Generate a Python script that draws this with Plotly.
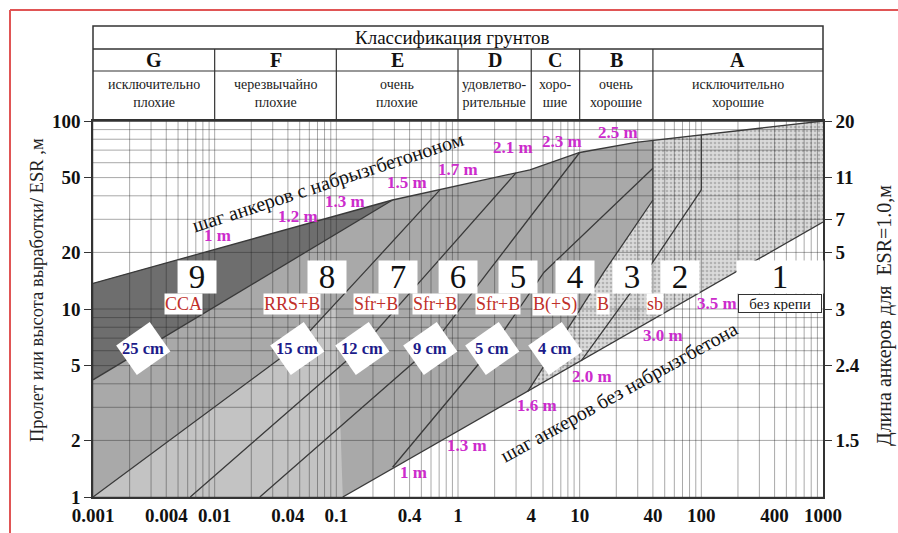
import numpy as np
import plotly.graph_objects as go

# ---------------- data ----------------
x_tick_vals = [0.001, 0.004, 0.01, 0.04, 0.1, 0.4, 1, 4, 10, 40, 100, 400, 1000]
x_tick_text = ["0.001", "0.004", "0.01", "0.04", "0.1", "0.4", "1", "4", "10", "40", "100", "400", "1000"]
y_tick_vals = [1, 2, 5, 10, 20, 50, 100]
y_tick_text = ["1", "2", "5", "10", "20", "50", "100"]
bolt_pos = [100, 50, 30, 20, 10, 5, 2]
bolt_text = ["20", "11", "7", "5", "3", "2.4", "1.5"]

class_letters = ["G", "F", "E", "D", "C", "B", "A"]
class_names = ["исключительно<br>плохие", "черезвычайно<br>плохие", "очень<br>плохие",
               "удовлетво-<br>рительные", "хоро-<br>шие", "очень<br>хорошие", "исключительно<br>хорошие"]
class_edges = [0.001, 0.01, 0.1, 1, 4, 10, 40, 1000]

# boundaries (Q, Span/ESR)
upper_q = [0.001, 0.29, 3.9, 10, 29, 1000]
upper_s = [13.7, 38, 55, 68, 77, 100]
lower_q = [0.113, 1000]
lower_s = [1, 29]
line_a_q = [0.001, 0.29]
line_a_s = [4.2, 38]
line_b_q = [0.001, 0.045, 0.17, 0.71]
line_b_s = [1, 6.2, 15.7, 43]
line_c_q = [0.0063, 0.16, 0.57, 3.0]
line_c_s = [1, 6.2, 15.7, 53]
line_d_q = [0.0235, 0.59, 1.76, 10]
line_d_s = [1, 6.2, 15.7, 68]
line_e_q = [0.29, 1.9, 5.1, 40]
line_e_s = [1.44, 6.2, 15.7, 56]
line_f_q = [3.75, 6.3, 15.8, 40]
line_f_s = [3.65, 6.2, 15.7, 38]
line_g_q = [10.3, 40, 100]
line_g_s = [5.3, 17.8, 43]
vert_q = [40, 100]

categories = ["9", "8", "7", "6", "5", "4", "3", "2", "1"]
codes = ["CCA", "RRS+B", "Sfr+B", "Sfr+B", "Sfr+B", "B(+S)", "B", "sb"]
thickness = ["25 cm", "15 cm", "12 cm", "9 cm", "5 cm", "4 cm"]
spacing_shot = ["1 m", "1.2 m", "1.3 m", "1.5 m", "1.7 m", "2.1 m", "2.3 m", "2.5 m"]
spacing_noshot = ["1 m", "1.3 m", "1.6 m", "2.0 m", "3.0 m", "3.5 m"]

# ---------------- layout helpers (pixel -> paper) ----------------
W, H = 898, 533
L0, R0, T0, B0 = 93, 823, 121, 497


def px(x):
    return (x - L0) / (R0 - L0)


def py(y):
    return (B0 - y) / (B0 - T0)


def qpaper(q):
    return (np.log10(q) + 3) / 6


def logi(q, qs, ss):
    return 10 ** np.interp(np.log10(q), np.log10(qs), np.log10(ss))


SERIF = "Liberation Serif, Times New Roman, serif"
fig = go.Figure()

# ---------------- fills ----------------
base_x = upper_q + lower_q[::-1] + [0.001]
base_y = upper_s + lower_s[::-1] + [1]
fig.add_trace(go.Scatter(x=base_x, y=base_y, fill="toself", mode="none",
                         fillcolor="#a9a9a9", hoverinfo="skip", showlegend=False))

bl_x = line_b_q[:2] + [0.1, lower_q[0], 0.001]
bl_y = line_b_s[:2] + [logi(0.1, line_b_q, line_b_s), 1, 1]
fig.add_trace(go.Scatter(x=bl_x, y=bl_y, fill="toself", mode="none",
                         fillcolor="#c3c3c3", hoverinfo="skip", showlegend=False))

u40 = logi(40, upper_q, upper_s)
r_x = line_f_q + [40] + [q for q in upper_q if q > 40] + [1000, line_f_q[0]]
r_y = line_f_s + [u40] + [s for q, s in zip(upper_q, upper_s) if q > 40] + [lower_s[1], line_f_s[0]]
fig.add_trace(go.Scatter(x=r_x, y=r_y, fill="toself", mode="none",
                         fillcolor="#d9d9d9",
                         fillpattern=dict(shape=".", size=4, solidity=0.35, fgcolor="#8a8a8a", bgcolor="#dadada"),
                         hoverinfo="skip", showlegend=False))

d9_x = upper_q[:2] + [line_a_q[0]]
d9_y = upper_s[:2] + [line_a_s[0]]
fig.add_trace(go.Scatter(x=d9_x, y=d9_y, fill="toself", mode="none",
                         fillcolor="#6e6e6e", hoverinfo="skip", showlegend=False))

# ---------------- grid ----------------
gx, gy = [], []
for e in range(-3, 3):
    for k in range(1, 10):
        q = k * 10.0 ** e
        gx += [q, q, None]
        gy += [1, 100, None]
hx, hy = [], []
for e in range(0, 2):
    for k in range(1, 10):
        s = k * 10.0 ** e
        hx += [0.001, 1000, None]
        hy += [s, s, None]
fig.add_trace(go.Scatter(x=gx, y=gy, mode="lines", line=dict(color="rgba(30,30,30,0.38)", width=1),
                         hoverinfo="skip", showlegend=False))
fig.add_trace(go.Scatter(x=hx, y=hy, mode="lines", line=dict(color="rgba(30,30,30,0.38)", width=1),
                         hoverinfo="skip", showlegend=False))

# ---------------- boundary lines ----------------
LC = "#3a3a3a"
for qs, ss in [(upper_q, upper_s), (lower_q, lower_s), (line_a_q, line_a_s), (line_b_q, line_b_s),
               (line_c_q, line_c_s), (line_d_q, line_d_s), (line_e_q, line_e_s), (line_f_q, line_f_s),
               (line_g_q, line_g_s)]:
    fig.add_trace(go.Scatter(x=qs, y=ss, mode="lines", line=dict(color=LC, width=1.3),
                             hoverinfo="skip", showlegend=False))
for q in vert_q:
    lo = logi(q, line_g_q, line_g_s)
    fig.add_trace(go.Scatter(x=[q, q], y=[lo, logi(q, upper_q, upper_s)], mode="lines",
                             line=dict(color=LC, width=1.3), hoverinfo="skip", showlegend=False))

fig.add_trace(go.Scatter(x=[1], y=[10], yaxis="y2", mode="markers", marker=dict(opacity=0),
                         hoverinfo="skip", showlegend=False))

ann = []
shapes = []


def A(text, x, y, **kw):
    d = dict(text=text, xref="paper", yref="paper", x=x, y=y, showarrow=False,
             xanchor="center", yanchor="middle")
    d.update(kw)
    ann.append(d)


# ---------------- header table ----------------
ty0, ty1, ty2 = py(26), py(49), py(71)
shapes.append(dict(type="rect", xref="paper", yref="paper", x0=0, x1=1, y0=1, y1=ty0,
                   line=dict(color="#333", width=1.5)))
shapes.append(dict(type="line", xref="paper", yref="paper", x0=0, x1=1, y0=ty1, y1=ty1,
                   line=dict(color="#333", width=1.5)))
shapes.append(dict(type="line", xref="paper", yref="paper", x0=0, x1=1, y0=ty2, y1=ty2,
                   line=dict(color="#333", width=1.2)))
for q in class_edges[1:-1]:
    xp = qpaper(q)
    shapes.append(dict(type="line", xref="paper", yref="paper", x0=xp, x1=xp, y0=1, y1=ty1,
                       line=dict(color="#333", width=1.2)))
A("Классификация грунтов", px(452), py(37), font=dict(family=SERIF, size=19, color="#111"))
for i, (lt, nm) in enumerate(zip(class_letters, class_names)):
    xc = (qpaper(class_edges[i]) + qpaper(class_edges[i + 1])) / 2
    A(lt, xc, py(60), font=dict(family=SERIF, size=20, color="#111", weight="bold"))
    A(nm, xc, py(94), font=dict(family=SERIF, size=14, color="#222"))

# ---------------- category boxes ----------------
cat_x = [197, 327, 398, 458, 518, 575, 632, 680, 780]
for c, xc in zip(categories, cat_x):
    w = 84 if c == "1" else 36
    A(c, px(xc), py(277), bgcolor="white", width=w, height=30,
      font=dict(family=SERIF, size=33, color="#111"))
code_x = [183, 292, 376, 435, 498, 555, 603, 655]
for c, xc in zip(codes, code_x):
    A(c, px(xc), py(304), bgcolor="white", borderpad=0,
      font=dict(family=SERIF, size=18, color="#c0302a"))
A("без крепи", px(780), py(303), bgcolor="white", bordercolor="#333", borderwidth=1, width=80, height=15,
  font=dict(family=SERIF, size=15, color="#111"))

# ---------------- thickness labels ----------------
th_x = [143, 297, 362, 430, 492, 555]
for t, xc in zip(thickness, th_x):
    A(" ", px(xc), py(348), bgcolor="white", width=38, height=33, textangle=-35)
    A(t, px(xc), py(348), font=dict(family=SERIF, size=16.5, color="#1c1c8a", weight="bold"))

# ---------------- spacing labels ----------------
MAG = "#cc2ccc"
sp1_pos = [(217, 235), (298, 216), (345, 201), (407, 182), (458, 169), (513, 147), (562, 141), (618, 132)]
for t, (xc, yc) in zip(spacing_shot, sp1_pos):
    A(t, px(xc), py(yc), font=dict(family=SERIF, size=17, color=MAG, weight="bold"))
sp2_pos = [(413, 472), (467, 445), (537, 405), (592, 376), (663, 335), (717, 303)]
for t, (xc, yc) in zip(spacing_noshot, sp2_pos):
    A(t, px(xc), py(yc), font=dict(family=SERIF, size=17, color=MAG, weight="bold"))

A("шаг анкеров с набрызгбетононом", px(328), py(182), textangle=-18,
  font=dict(family=SERIF, size=20, color="#111"))
A("шаг анкеров без набрызгбетона", px(619), py(392), textangle=-29,
  font=dict(family=SERIF, size=20, color="#111"))

A("Пролет или высота выработки/ ESR ,м", px(37), py(290), textangle=-90,
  font=dict(family=SERIF, size=18.5, color="#222"))
A("Длина анкеров для&nbsp;&nbsp;ESR=1.0,м", px(884), py(316), textangle=-90,
  font=dict(family=SERIF, size=20, color="#222"))

shapes.append(dict(type="line", xref="paper", yref="paper", x0=px(10), x1=px(898), y0=py(10), y1=py(10),
                   line=dict(color="#e05555", width=2)))
shapes.append(dict(type="line", xref="paper", yref="paper", x0=px(10), x1=px(10), y0=py(10), y1=py(533),
                   line=dict(color="#e05555", width=2)))

tickfont = dict(family=SERIF, size=19, color="#111", weight="bold")
fig.update_layout(
    width=W, height=H, margin=dict(l=L0, r=W - R0, t=T0, b=H - B0, pad=0),
    paper_bgcolor="white", plot_bgcolor="white",
    xaxis=dict(type="log", range=[-3, 3], tickvals=x_tick_vals, ticktext=x_tick_text, automargin=False,
               showgrid=False, zeroline=False, showline=True, mirror=True, linecolor="#333", linewidth=1.5,
               ticks="", tickfont=tickfont),
    yaxis=dict(type="log", range=[0, 2], tickvals=y_tick_vals, ticktext=y_tick_text, automargin=False,
               showgrid=False, zeroline=False, showline=True, linecolor="#333", linewidth=1.5,
               ticks="outside", ticklen=7, tickcolor="#333", tickfont=tickfont),
    yaxis2=dict(type="log", range=[0, 2], overlaying="y", side="right", tickvals=bolt_pos, ticktext=bolt_text,
                automargin=False, showgrid=False, zeroline=False, showline=True, linecolor="#333", linewidth=1.5,
                ticks="outside", ticklen=7, tickcolor="#333", tickfont=tickfont),
    annotations=ann, shapes=shapes, showlegend=False,
)
fig.write_html("out.html", config={"displayModeBar": False},
               post_script="document.body.style.margin='0px';document.body.style.overflow='hidden';")
